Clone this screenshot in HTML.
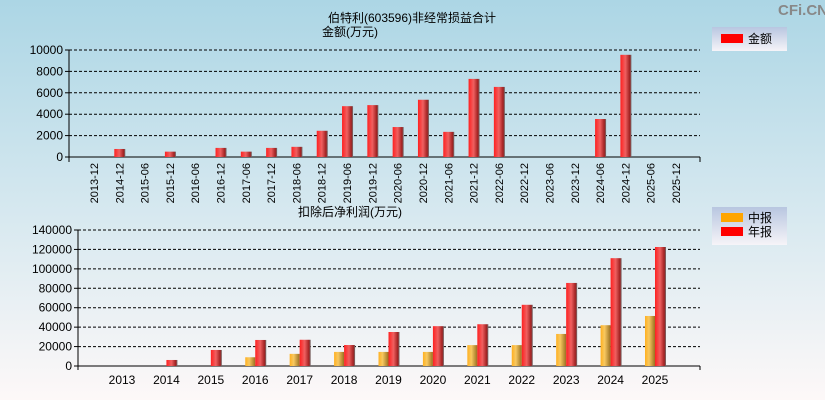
<!DOCTYPE html>
<html><head><meta charset="utf-8"><style>
body{margin:0;width:825px;height:400px;overflow:hidden;}
svg{display:block;font-family:"Liberation Sans","Noto Sans CJK SC",sans-serif;}
</style></head><body>
<svg id="c" width="825" height="400">
<defs>
<linearGradient id="bg" x1="0" y1="0" x2="0" y2="1"><stop offset="0" stop-color="#acd6e5"/><stop offset="0.55" stop-color="#d8e9f0"/><stop offset="1" stop-color="#fdf8f8"/></linearGradient>
<linearGradient id="red" x1="0" y1="0" x2="1" y2="0"><stop offset="0" stop-color="#ff2020"/><stop offset="0.45" stop-color="#f06060"/><stop offset="0.85" stop-color="#a02020"/><stop offset="1" stop-color="#707070"/></linearGradient>
<linearGradient id="yel" x1="0" y1="0" x2="1" y2="0"><stop offset="0" stop-color="#ffb020"/><stop offset="0.4" stop-color="#f8c860"/><stop offset="1" stop-color="#9a7020"/></linearGradient>
<linearGradient id="lg" x1="0" y1="0" x2="0" y2="1"><stop offset="0" stop-color="#b8c6e0"/><stop offset="1" stop-color="#f6f4f8"/></linearGradient>
</defs>
<rect width="825" height="400" fill="url(#bg)"/>
<text x="778" y="15" font-size="15" font-weight="bold" fill="#888">CFi.CN</text>
<text x="412" y="22" font-size="12" text-anchor="middle">伯特利(603596)非经常损益合计</text>
<text x="350" y="36" font-size="12" text-anchor="middle">金额(万元)</text>
<text x="350" y="216" font-size="12" text-anchor="middle">扣除后净利润(万元)</text>
<g>
<rect x="712" y="27" width="75" height="24" fill="url(#lg)"/>
<rect x="721" y="34" width="22" height="9" fill="#f00"/>
<text x="748" y="43" font-size="12">金额</text>
</g>
<g>
<rect x="712" y="207" width="75" height="38" fill="url(#lg)"/>
<rect x="721" y="213" width="22" height="9" fill="#ffa500"/>
<text x="748" y="222" font-size="12">中报</text>
<rect x="721" y="227" width="22" height="9" fill="#f00"/>
<text x="748" y="236" font-size="12">年报</text>
</g>
<g id="top"></g><g id="bot"></g>
</svg>
<script>
const topCats=["2013-12","2014-12","2015-06","2015-12","2016-06","2016-12","2017-06","2017-12","2018-06","2018-12","2019-06","2019-12","2020-06","2020-12","2021-06","2021-12","2022-06","2022-12","2023-06","2023-12","2024-06","2024-12","2025-06","2025-12"];
const topVals=[0,750,0,500,0,850,500,850,950,2450,4750,4850,2800,5350,2350,7300,6550,0,0,0,3550,9550,0,0];
const topTicks=[0,2000,4000,6000,8000,10000];
const botYears=["2013","2014","2015","2016","2017","2018","2019","2020","2021","2022","2023","2024","2025"];
const botInterim=[0,0,0,9000,12500,14500,14500,14500,21500,21500,33000,42000,51500];
const botAnnual=[0,6200,16500,26800,27000,21600,35000,41000,43000,63000,85500,111000,122500];
const botTicks=[0,20000,40000,60000,80000,100000,120000,140000];
const NS="http://www.w3.org/2000/svg";
function mk(p,t,a){const e=document.createElementNS(NS,t);for(const k in a)e.setAttribute(k,a[k]);p.appendChild(e);return e;}
// top chart
const T=document.getElementById('top');
const tx=i=>94+i*(676-94)/(topCats.length-1);
const ty=v=>157-v*(157-50)/10000;
topTicks.forEach(v=>{
 if(v>0){const g=mk(T,'line',{x1:69,x2:700,y1:ty(v),y2:ty(v),stroke:'#000','stroke-dasharray':'3,2'});}
 mk(T,'line',{x1:65,x2:69,y1:ty(v),y2:ty(v),stroke:'#000'});
 const t=mk(T,'text',{x:63,y:ty(v)+4,'font-size':12,'text-anchor':'end'});t.textContent=v;
 
 
});
mk(T,'line',{x1:69,x2:69,y1:50,y2:162,stroke:'#000'});
mk(T,'line',{x1:69,x2:700,y1:157,y2:157,stroke:'#000'});
mk(T,'line',{x1:700,x2:700,y1:157,y2:162,stroke:'#000'});
topCats.forEach((c,i)=>{
 const x=tx(i);
 if(topVals[i]>0){const r=mk(T,'rect',{x:x-5,y:ty(topVals[i]),width:11,height:157-ty(topVals[i]),fill:'url(#red)'});
 
 }
 const t=mk(T,'text',{x:0,y:0,'font-size':11,'text-anchor':'end',transform:`translate(${x+4},163) rotate(-90)`});t.textContent=c;
 
 
});
// bottom chart
const B=document.getElementById('bot');
const bx=i=>122+i*(655-122)/(botYears.length-1);
const by=v=>366-v*(366-230)/140000;
botTicks.forEach(v=>{
 if(v>0){const g=mk(B,'line',{x1:78,x2:700,y1:by(v),y2:by(v),stroke:'#000','stroke-dasharray':'3,2'});}
 mk(B,'line',{x1:74,x2:78,y1:by(v),y2:by(v),stroke:'#000'});
 const t=mk(B,'text',{x:72,y:by(v)+4,'font-size':12,'text-anchor':'end'});t.textContent=v;
 
 
});
mk(B,'line',{x1:78,x2:78,y1:230,y2:370,stroke:'#000'});
mk(B,'line',{x1:78,x2:700,y1:366,y2:366,stroke:'#000'});
mk(B,'line',{x1:700,x2:700,y1:366,y2:370,stroke:'#000'});
botYears.forEach((y,i)=>{
 const x=bx(i);
 if(botInterim[i]>0){const r=mk(B,'rect',{x:x-10,y:by(botInterim[i]),width:10,height:366-by(botInterim[i]),fill:'url(#yel)'});
 
 }
 if(botAnnual[i]>0){const r=mk(B,'rect',{x:x,y:by(botAnnual[i]),width:11,height:366-by(botAnnual[i]),fill:'url(#red)'});
 
 }
 const t=mk(B,'text',{x:x,y:384,'font-size':12,'text-anchor':'middle'});t.textContent=y;
 
 
});
</script>
</body></html>
